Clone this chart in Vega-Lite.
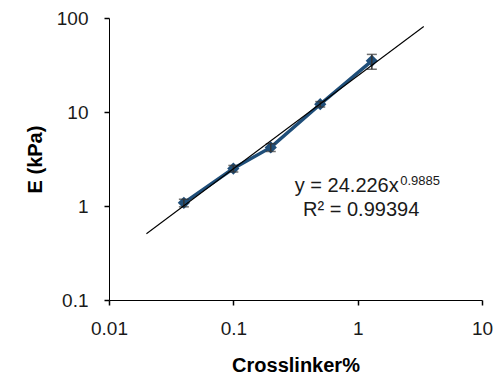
{
  "$schema": "https://vega.github.io/schema/vega-lite/v6.json",
  "width": 373,
  "height": 282,
  "autosize": {"type": "none"},
  "padding": {"left": 109, "top": 18, "right": 15, "bottom": 81},
  "background": "white",
  "config": {
    "view": {"stroke": null},
    "font": "Liberation Sans",
    "axis": {
      "grid": false,
      "domainColor": "#000000",
      "domainWidth": 1,
      "labelFont": "Liberation Sans",
      "labelFontSize": 19,
      "labelColor": "#1a1a1a",
      "titleFont": "Liberation Sans",
      "titleFontSize": 20,
      "titleFontWeight": "bold",
      "titleColor": "#000000"
    }
  },
  "datasets": {
    "pts": [
      {"c": 0.04, "E": 1.08, "lo": 0.98, "hi": 1.18},
      {"c": 0.1, "E": 2.5, "lo": 2.3, "hi": 2.7},
      {"c": 0.2, "E": 4.2, "lo": 3.8, "hi": 4.6},
      {"c": 0.5, "E": 12.1, "lo": 11.3, "hi": 12.9},
      {"c": 1.3, "E": 35, "lo": 28.5, "hi": 41}
    ],
    "trend": [
      {"c": 0.02, "E": 0.507},
      {"c": 3.4, "E": 81.2}
    ],
    "notes": [
      {"c": 2.14, "E": 1.41, "t": "y = 24.226x", "kind": "main"},
      {"c": 2.2, "E": 1.68, "t": "0.9885", "kind": "sup"},
      {"c": 1.067, "E": 0.783, "t": "R² = 0.99394", "kind": "r2"}
    ],
    "xticks": [
      {"v": 0.01}, {"v": 0.02}, {"v": 0.03}, {"v": 0.04}, {"v": 0.05}, {"v": 0.06}, {"v": 0.07}, {"v": 0.08}, {"v": 0.09},
      {"v": 0.1}, {"v": 0.2}, {"v": 0.3}, {"v": 0.4}, {"v": 0.5}, {"v": 0.6}, {"v": 0.7}, {"v": 0.8}, {"v": 0.9},
      {"v": 1}, {"v": 2}, {"v": 3}, {"v": 4}, {"v": 5}, {"v": 6}, {"v": 7}, {"v": 8}, {"v": 9}, {"v": 10}
    ],
    "yticks": [
      {"v": 0.1}, {"v": 0.2}, {"v": 0.3}, {"v": 0.4}, {"v": 0.5}, {"v": 0.6}, {"v": 0.7}, {"v": 0.8}, {"v": 0.9},
      {"v": 1}, {"v": 2}, {"v": 3}, {"v": 4}, {"v": 5}, {"v": 6}, {"v": 7}, {"v": 8}, {"v": 9},
      {"v": 10}, {"v": 20}, {"v": 30}, {"v": 40}, {"v": 50}, {"v": 60}, {"v": 70}, {"v": 80}, {"v": 90}, {"v": 100}
    ]
  },
  "encoding": {
    "x": {
      "field": "c", "type": "quantitative",
      "title": "Crosslinker%",
      "scale": {"type": "log", "domain": [0.01, 10], "nice": false},
      "axis": {
        "title": "Crosslinker%",
        "ticks": true,
        "tickSize": 5,
        "tickWidth": 1.5,
        "tickColor": "#000000",
        "values": [0.01, 0.1, 1, 10],
        "labelExpr": "datum.value == 0.01 ? '0.01' : datum.value == 0.1 ? '0.1' : datum.value == 1 ? '1' : datum.value == 10 ? '10' : ''",
        "labelFlush": false,
        "labelOverlap": false,
        "labelPadding": 14,
        "titlePadding": 17
      }
    },
    "y": {
      "field": "E", "type": "quantitative",
      "title": "E (kPa)",
      "scale": {"type": "log", "domain": [0.1, 100], "nice": false},
      "axis": {
        "title": "E (kPa)",
        "ticks": true,
        "tickSize": 5,
        "tickWidth": 1.5,
        "tickColor": "#000000",
        "values": [0.1, 1, 10, 100],
        "labelExpr": "datum.value == 0.1 ? '0.1' : datum.value == 1 ? '1' : datum.value == 10 ? '10' : datum.value == 100 ? '100' : ''",
        "labelFlush": false,
        "labelOverlap": false,
        "labelPadding": 16,
        "titlePadding": 11
      }
    }
  },
  "layer": [
    {
      "data": {"name": "xticks"},
      "mark": {"type": "rule", "color": "#000000", "strokeWidth": 1.3, "clip": false},
      "encoding": {
        "x": {"field": "v", "type": "quantitative"},
        "y": {"datum": 0.1, "type": "quantitative"},
        "y2": {"datum": 0.088}
      }
    },
    {
      "data": {"name": "yticks"},
      "mark": {"type": "rule", "color": "#000000", "strokeWidth": 1.3, "clip": false},
      "encoding": {
        "x": {"datum": 0.009105, "type": "quantitative"},
        "x2": {"datum": 0.01},
        "y": {"field": "v", "type": "quantitative"}
      }
    },
    {
      "data": {"name": "pts"},
      "mark": {"type": "line", "color": "#1f4e79", "strokeWidth": 3.5}
    },
    {
      "data": {"name": "pts"},
      "mark": {"type": "point", "shape": "diamond", "filled": true, "color": "#1f4e79", "size": 150, "opacity": 1}
    },
    {
      "data": {"name": "pts"},
      "mark": {"type": "rule", "color": "#333333", "strokeWidth": 1.5},
      "encoding": {
        "y": {"field": "lo", "type": "quantitative"},
        "y2": {"field": "hi"}
      }
    },
    {
      "data": {"name": "pts"},
      "mark": {"type": "tick", "orient": "horizontal", "color": "#333333", "size": 10, "thickness": 1.5},
      "encoding": {
        "y": {"field": "lo", "type": "quantitative"}
      }
    },
    {
      "data": {"name": "pts"},
      "mark": {"type": "tick", "orient": "horizontal", "color": "#333333", "size": 10, "thickness": 1.5},
      "encoding": {
        "y": {"field": "hi", "type": "quantitative"}
      }
    },
    {
      "data": {"name": "trend"},
      "mark": {"type": "line", "color": "#000000", "strokeWidth": 1.1}
    },
    {
      "data": {"name": "notes"},
      "transform": [{"filter": "datum.kind == 'main'"}],
      "mark": {"type": "text", "align": "right", "baseline": "alphabetic", "fontSize": 20, "font": "Liberation Sans", "color": "#1a1a1a"},
      "encoding": {"text": {"field": "t"}}
    },
    {
      "data": {"name": "notes"},
      "transform": [{"filter": "datum.kind == 'sup'"}],
      "mark": {"type": "text", "align": "left", "baseline": "alphabetic", "fontSize": 13, "font": "Liberation Sans", "color": "#1a1a1a"},
      "encoding": {"text": {"field": "t"}}
    },
    {
      "data": {"name": "notes"},
      "transform": [{"filter": "datum.kind == 'r2'"}],
      "mark": {"type": "text", "align": "center", "baseline": "alphabetic", "fontSize": 20, "font": "Liberation Sans", "color": "#1a1a1a"},
      "encoding": {"text": {"field": "t"}}
    }
  ]
}
